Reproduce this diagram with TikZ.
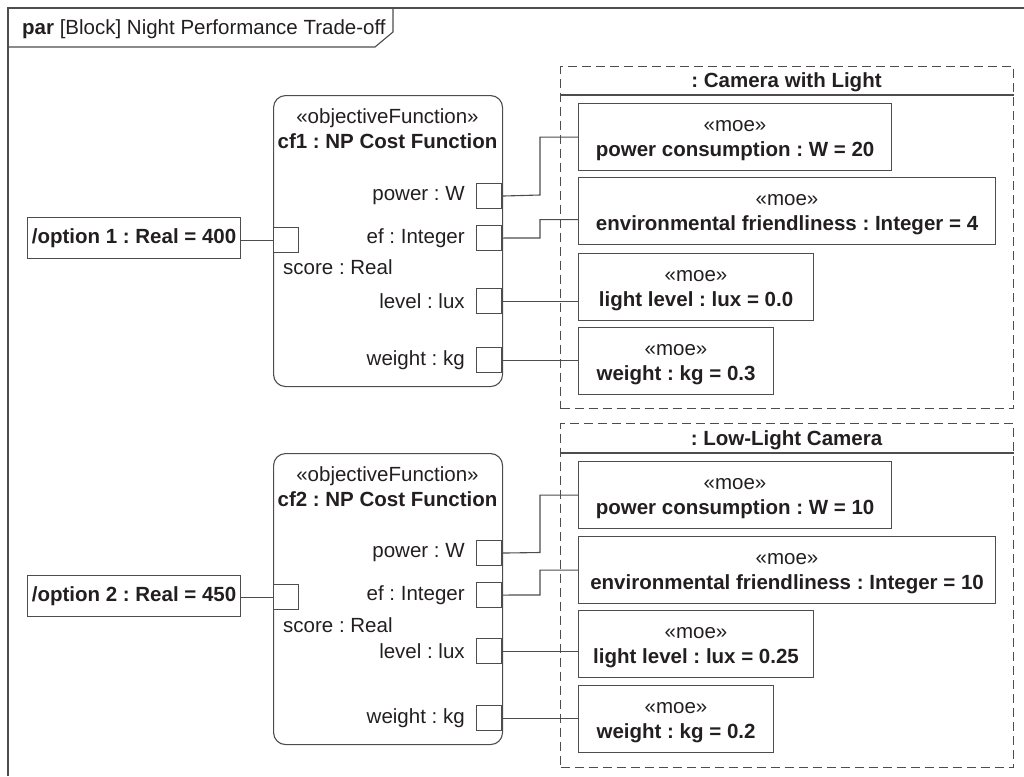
\documentclass[tikz,border=0pt]{standalone}
\usepackage{fontspec}
\setmainfont{Liberation Sans}
\usepackage{tikz}
\usetikzlibrary{positioning}
\definecolor{linegray}{HTML}{4D4D4D}
\definecolor{inkgray}{HTML}{231F20}
\newcommand{\JX}{540} % x of the wire bends
\newcommand{\moetop}{\rule{0pt}{18pt}} % lifts the first line of a moe box

\tikzset{
  wire/.style={draw=linegray, line width=1.1pt},
  blockbox/.style={wire, rounded corners=12pt, anchor=north west, inner sep=0pt},
  portbox/.style={wire, fill=white, minimum width=25pt, minimum height=25pt, inner sep=0pt},
  moebox/.style={wire, anchor=north west, minimum height=67pt, align=center, inner sep=0pt},
  valbox/.style={wire, anchor=north west, minimum width=213pt, minimum height=41pt, inner sep=0pt},
  groupbox/.style={wire, dash pattern=on 9pt off 5pt, anchor=north west, minimum width=453pt, inner sep=0pt},
  plabel/.style={inner sep=0pt}
}

\begin{document}
\begin{tikzpicture}[x=1pt,y=-1pt,every node/.style={text=inkgray, font=\fontsize{20.5}{25}\selectfont\frenchspacing}]
            \useasboundingbox (0,0) rectangle (1024,776);

            % frame and its name tab
            \draw[wire] (8,776) -- (8,8) -- (1024,8);
            \draw[wire] (8,47) -- (375,47) -- (393,32) -- (393,8);
            \path (22,29.5) node[anchor=west, inner sep=0pt] (F) {\textbf{par} [Block] Night Performance Trade-off};

            %B1 - cf1 with its ports
            \path (273,95) node[blockbox, minimum width=229pt, minimum height=291pt] (B1) {};
            \path (387.5,118) node (B1s) {«objectiveFunction»};
            \path (387.5,141) node (B1n) {\bfseries cf1 : NP Cost Function};
            \path (502,183) node[portbox, anchor=north east] (B1pw) {};
            \path (502,225) node[portbox, anchor=north east] (B1ef) {};
            \path (502,288) node[portbox, anchor=north east] (B1lv) {};
            \path (502,347) node[portbox, anchor=north east] (B1wt) {};
            \path (273,227) node[portbox, anchor=north west] (B1sc) {};
            \node[plabel, left=11pt of B1pw] (B1pwl) {power : W};
            \node[plabel, left=11pt of B1ef] (B1efl) {ef : Integer};
            \node[plabel, left=11pt of B1lv] (B1lvl) {level : lux};
            \node[plabel, left=11pt of B1wt] (B1wtl) {weight : kg};
            \path (283,259) node[plabel, anchor=north west] (B1scl) {score : Real};
            \path (27,217) node[valbox] (V1) {\bfseries /option 1 : Real = 400};

            %G1 - Camera with Light
            \path (560,66) node[groupbox, minimum height=342pt] (G1) {};
            \draw[wire] ([yshift=-29pt]G1.north west) -- ([yshift=-29pt]G1.north east);
            \path (786.5,82) node (G1t) {\bfseries : Camera with Light};
            \path (578,103) node[moebox, minimum width=313pt] (M1pw) {\moetop«moe»\\\textbf{power consumption : W = 20}};
            \path (578,177) node[moebox, minimum width=417pt] (M1ef) {\moetop«moe»\\\textbf{environmental friendliness : Integer = 4}};
            \path (578,253) node[moebox, minimum width=235pt] (M1lv) {\moetop«moe»\\\textbf{light level : lux = 0.0}};
            \path (578,327) node[moebox, minimum width=195pt] (M1wt) {\moetop«moe»\\\textbf{weight : kg = 0.3}};

            \draw[wire] (V1.east |- B1sc) -- (B1sc.west);
            \draw[wire] (B1pw.east) -- (\JX,195) |- (M1pw.west);
            \draw[wire] (B1ef.east) -- (\JX,238) |- ([yshift=-8.5pt]M1ef.west);
            \draw[wire] (B1lv.east) -- (B1lv.east -| M1lv.west);
            \draw[wire] (B1wt.east) -- (B1wt.east -| M1wt.west);

            %B2 - cf2 with its ports
            \path (273,453) node[blockbox, minimum width=229pt, minimum height=291pt] (B2) {};
            \path (387.5,476) node (B2s) {«objectiveFunction»};
            \path (387.5,499) node (B2n) {\bfseries cf2 : NP Cost Function};
            \path (502,540) node[portbox, anchor=north east] (B2pw) {};
            \path (502,582) node[portbox, anchor=north east] (B2ef) {};
            \path (502,638) node[portbox, anchor=north east] (B2lv) {};
            \path (502,705) node[portbox, anchor=north east] (B2wt) {};
            \path (273,584) node[portbox, anchor=north west] (B2sc) {};
            \node[plabel, left=11pt of B2pw] (B2pwl) {power : W};
            \node[plabel, left=11pt of B2ef] (B2efl) {ef : Integer};
            \node[plabel, left=11pt of B2lv] (B2lvl) {level : lux};
            \node[plabel, left=11pt of B2wt] (B2wtl) {weight : kg};
            \path (283,617) node[plabel, anchor=north west] (B2scl) {score : Real};
            \path (27,575) node[valbox] (V2) {\bfseries /option 2 : Real = 450};

            %G2 - Low-Light Camera
            \path (560,423) node[groupbox, minimum height=344pt] (G2) {};
            \draw[wire] ([yshift=-30pt]G2.north west) -- ([yshift=-30pt]G2.north east);
            \path (786.5,440) node (G2t) {\bfseries : Low-Light Camera};
            \path (578,461) node[moebox, minimum width=313pt] (M2pw) {\moetop«moe»\\\textbf{power consumption : W = 10}};
            \path (578,536) node[moebox, minimum width=417pt] (M2ef) {\moetop«moe»\\\textbf{environmental friendliness : Integer = 10}};
            \path (578,610) node[moebox, minimum width=235pt] (M2lv) {\moetop«moe»\\\textbf{light level : lux = 0.25}};
            \path (578,685) node[moebox, minimum width=195pt] (M2wt) {\moetop«moe»\\\textbf{weight : kg = 0.2}};

            \draw[wire] (V2.east |- B2sc) -- (B2sc.west);
            \draw[wire] (B2pw.east) -- (\JX,552.5) |- (M2pw.west);
            \draw[wire] (B2ef.east) -- (\JX,595) |- (M2ef.west);
            \draw[wire] (B2lv.east) -- (B2lv.east -| M2lv.west);
            \draw[wire] (B2wt.east) -- (B2wt.east -| M2wt.west);

        \end{tikzpicture}
\end{document}
